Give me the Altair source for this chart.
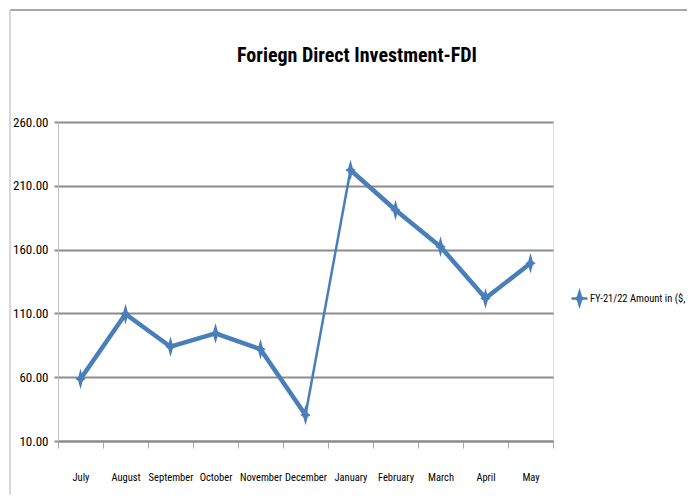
import altair as alt
import pandas as pd

months = ["July", "August", "September", "October", "November", "December",
          "January", "February", "March", "April", "May"]
values = [58.6, 109.5, 83.9, 94.4, 81.9, 30.4, 222.4, 191.0, 162.3, 121.8, 149.3]
series_name = "FY-21/22 Amount in ($, mn)"
y_ticks = [10, 60, 110, 160, 210, 260]
title_text = "Foriegn Direct Investment-FDI"

BLUE = "#4A7EBB"
FONT = "Liberation Sans Narrow, Roboto Condensed, Noto Sans Condensed, Lato, sans-serif"

df = pd.DataFrame({"month": months, "value": values, "series": series_name})

# line pieces: thick up to December, thin December->January, thick after
df_a = df.iloc[0:6]
df_b = df.iloc[5:7]
df_c = df.iloc[6:]

x_scale = alt.Scale(type="band", domain=months, paddingInner=0, paddingOuter=0)
y_scale = alt.Scale(domain=[10, 260], nice=False, zero=False)

x_enc = alt.X(
    "month:N", sort=months, scale=x_scale, bandPosition=0.5, title=None,
    axis=alt.Axis(
        tickBand="extent", labelAngle=0, labelFont=FONT, labelFontSize=10.5,
        labelColor="#000000", labelPadding=24, labelOverlap=False,
        domainColor="#8C8C8C", domainWidth=2, tickColor="#A6A6A6",
        tickWidth=1, tickSize=7, grid=False,
    ),
)
y_enc = alt.Y(
    "value:Q", scale=y_scale, title=None,
    axis=alt.Axis(
        values=y_ticks, format=".2f", labelFont=FONT, labelFontSize=13,
        labelColor="#000000", labelPadding=6, grid=True, gridColor="#8C8C8C",
        gridWidth=2, domainColor="#BFBFBF", domainWidth=1, tickColor="#8C8C8C",
        tickWidth=2, tickSize=4,
    ),
)
x_plain = alt.X("month:N", sort=months, scale=x_scale, bandPosition=0.5)
y_plain = alt.Y("value:Q", scale=y_scale)

line_a = alt.Chart(df_a).mark_line(color=BLUE, strokeWidth=4.5, strokeJoin="round").encode(
    x=x_enc, y=y_enc
)
line_b = alt.Chart(df_b).mark_line(color=BLUE, strokeWidth=2.5).encode(x=x_plain, y=y_plain)
line_c = alt.Chart(df_c).mark_line(color=BLUE, strokeWidth=4.5, strokeJoin="round").encode(
    x=x_plain, y=y_plain
)

STAR = "M0,-1L0.22,-0.2L0.5,0L0.22,0.2L0,1L-0.22,0.2L-0.5,0L-0.22,-0.2Z"
LEGEND_SYM = "M-1,0H1M0,-0.8L0.2,-0.15L0.45,0L0.2,0.15L0,0.8L-0.2,0.15L-0.45,0L-0.2,-0.15Z"

points = alt.Chart(df).mark_point(shape=STAR, size=430, filled=True, opacity=1).encode(
    x=x_plain,
    y=y_plain,
    color=alt.Color(
        "series:N", scale=alt.Scale(domain=[series_name], range=[BLUE]),
        legend=alt.Legend(
            title=None, orient="none", legendX=512, legendY=167,
            symbolType=LEGEND_SYM, symbolSize=256, symbolStrokeColor=BLUE,
            symbolStrokeWidth=2.5, symbolFillColor=BLUE,
            labelFont=FONT, labelFontSize=10.5, labelColor="#000000",
            labelOffset=1, labelLimit=400, padding=0,
        ),
    ),
)

one = pd.DataFrame({"t": [title_text]})
title_mark = alt.Chart(one).mark_text(
    font=FONT, fontSize=20, fontWeight="bold", color="#000000",
    align="center", baseline="alphabetic",
).encode(text="t:N", x=alt.value(299), y=alt.value(-60))

frame_top = alt.Chart(one).mark_rule(color="#A6A6A6", strokeWidth=2).encode(
    x=alt.value(-48), x2=alt.value(640), y=alt.value(-112)
)
frame_left = alt.Chart(one).mark_rule(color="#D9D9D9", strokeWidth=2).encode(
    x=alt.value(-48), y=alt.value(-112), y2=alt.value(390)
)

chart = alt.layer(frame_top, frame_left, line_a, line_b, line_c, points, title_mark).properties(
    width=495,
    height=319,
    padding={"left": 50, "top": 114, "right": 134, "bottom": 54},
    autosize=alt.AutoSizeParams(type="none"),
).configure_view(stroke=None).configure(background="white")

chart.save("out.html", embed_options={"renderer": "svg", "actions": False})
